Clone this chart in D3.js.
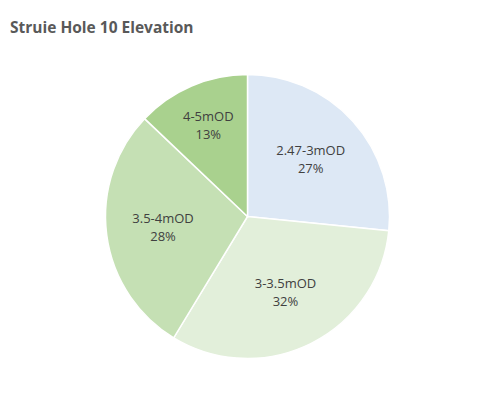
<!DOCTYPE html>
<html>

<head>
    <script src="https://d3js.org/d3.v7.min.js" charset="utf-8"></script>
    <style>
        body {
            margin: 0;
            background: #fff;
        }

        svg {
            font-family: "Open Sans", sans-serif;
        }

        .slice path {
            stroke: #fff;
            stroke-width: 1.5px;
        }

        .label text {
            fill: #404040;
            font-size: 13px;
            text-anchor: middle;
        }
    </style>
</head>

<body>
    <script>
        // Elevation bands and their share of the hole (percent)
        var categories = ["2.47-3mOD", "3-3.5mOD", "3.5-4mOD", "4-5mOD"];
        var values = [26.6, 32.1, 28.4, 12.9];
        var colors = ["#dde8f5", "#e2efda", "#c5e0b4", "#a9d18e"];

        var width = 499,
            height = 396,
            cx = 247.5,
            cy = 216.5,
            radius = 142;

        var data = categories.map(function (c, i) {
            return { name: c, value: values[i] };
        });

        var svg = d3.select("body")
            .append("svg")
            .attr("width", width)
            .attr("height", height);

        svg.append("text")
            .attr("x", 10)
            .attr("y", 33)
            .style("font-size", "15.5px")
            .style("font-weight", 700)
            .style("fill", "#595959")
            .text("Struie Hole 10 Elevation");

        var color = d3.scaleOrdinal()
            .domain(categories)
            .range(colors);

        var pie = d3.pie()
            .sort(null)
            .value(function (d) { return d.value; });

        var arc = d3.arc()
            .innerRadius(0)
            .outerRadius(radius);

        var g = svg.append("g")
            .attr("transform", "translate(" + cx + "," + cy + ")");

        var arcs = pie(data);

        g.selectAll(".slice")
            .data(arcs)
            .enter()
            .append("g")
            .attr("class", "slice")
            .append("path")
            .attr("d", arc)
            .style("fill", function (d) { return color(d.data.name); });

        // small slices get their label pushed further out, like Excel's best fit
        function labelArc(d) {
            var r = d.data.value < 15 ? radius * 0.7 : radius * 0.6;
            return d3.arc().innerRadius(r).outerRadius(r).centroid(d);
        }

        var total = d3.sum(values);

        var lab = g.selectAll(".label")
            .data(arcs)
            .enter()
            .append("g")
            .attr("class", "label")
            .attr("transform", function (d) {
                return "translate(" + labelArc(d) + ")";
            });

        lab.append("text")
            .attr("y", -4.5)
            .text(function (d) { return d.data.name; });

        lab.append("text")
            .attr("y", 13.5)
            .text(function (d) { return Math.round(d.data.value / total * 100) + "%"; });
    </script>
</body>

</html>
